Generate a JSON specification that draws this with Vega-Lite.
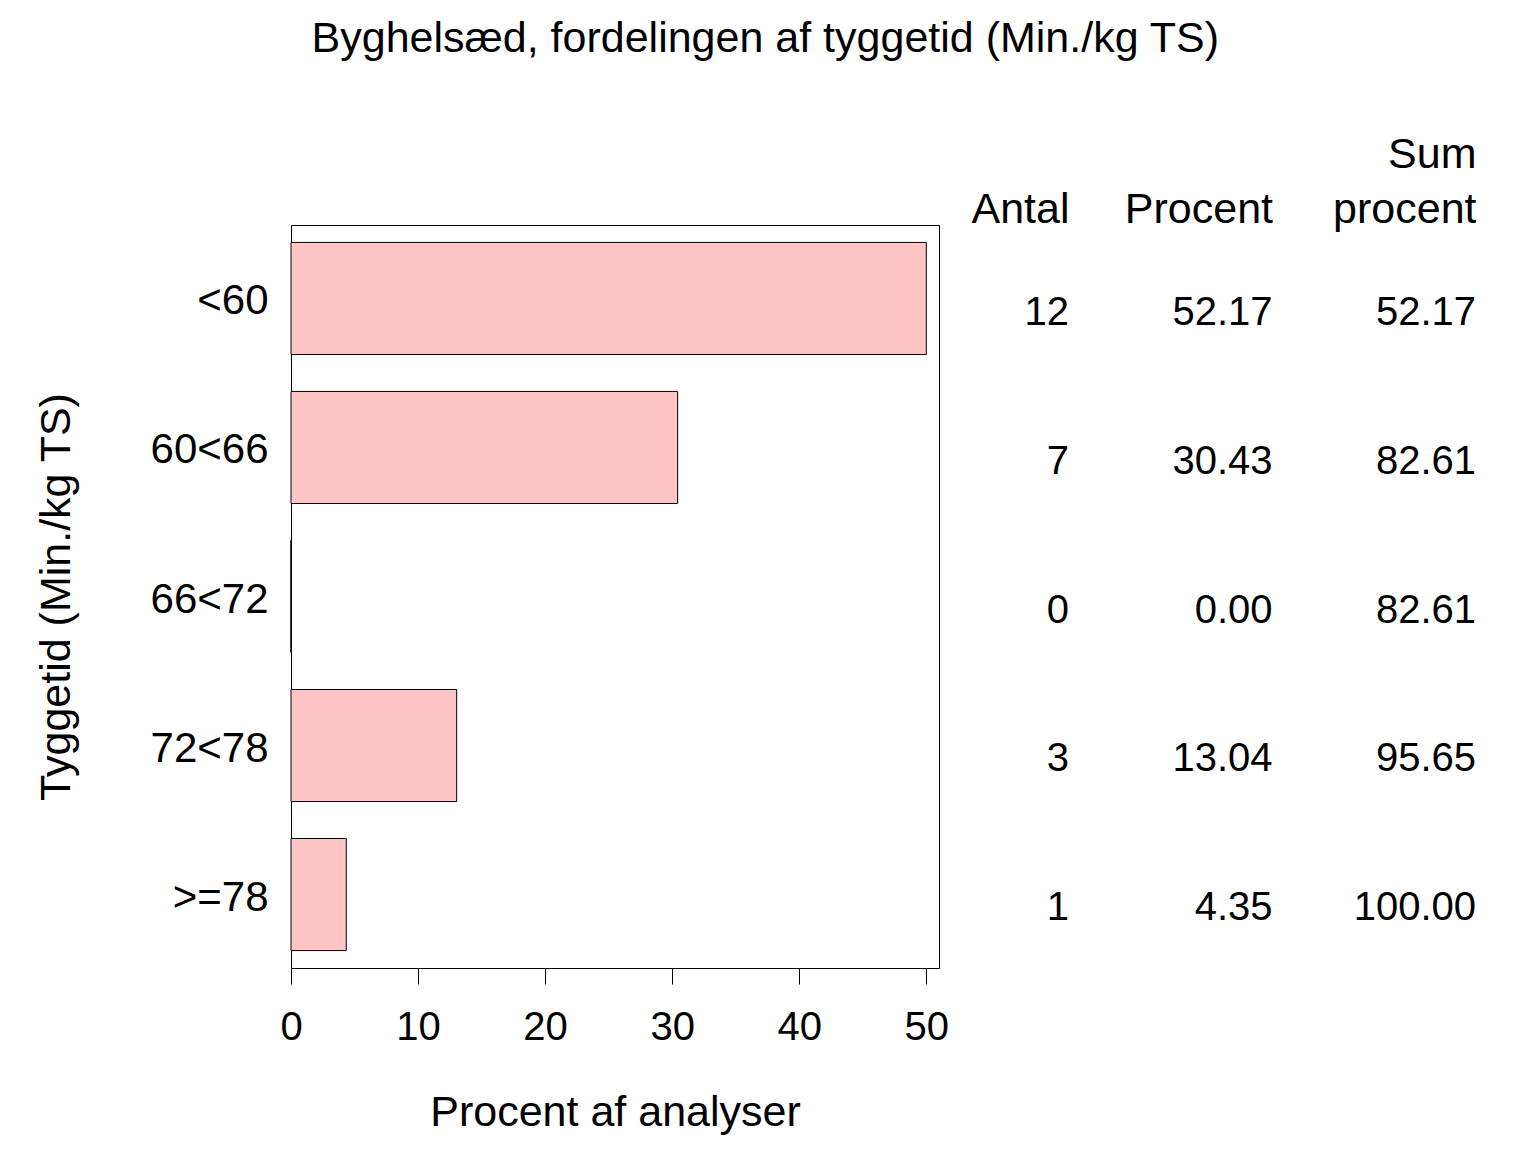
{
  "$schema": "https://vega.github.io/schema/vega-lite/v6.json",
  "background": "white",
  "padding": {"left": 34, "top": 18, "right": 0, "bottom": 0},
  "config": {
    "font": "Liberation Sans",
    "view": {"stroke": null},
    "axis": {"labelColor": "black", "titleColor": "black", "labelFontSize": 40, "titleFontSize": 43, "titleFontWeight": "normal", "tickColor": "black", "grid": false}
  },
  "title": {
    "text": "Byghelsæd, fordelingen af tyggetid (Min./kg TS)",
    "fontSize": 43,
    "fontWeight": "normal",
    "color": "black",
    "anchor": "middle",
    "dx": 10,
    "offset": 72
  },
  "data": {
    "values": [
      {"klasse": "<60", "antal": 12, "procent": 52.17, "sum": 52.17, "bar": 50},
      {"klasse": "60<66", "antal": 7, "procent": 30.43, "sum": 82.61, "bar": 30.43},
      {"klasse": "66<72", "antal": 0, "procent": 0, "sum": 82.61, "bar": 0},
      {"klasse": "72<78", "antal": 3, "procent": 13.04, "sum": 95.65, "bar": 13.04},
      {"klasse": ">=78", "antal": 1, "procent": 4.35, "sum": 100, "bar": 4.35}
    ]
  },
  "spacing": 20,
  "resolve": {"scale": {"x": "independent", "y": "independent"}},
  "hconcat": [
    {
      "width": 648,
      "height": 743,
      "view": {"stroke": "black", "strokeWidth": 1},
      "mark": {"type": "bar", "fill": "#ffc4c4", "stroke": "black", "strokeWidth": 1},
      "encoding": {
        "y": {
          "field": "klasse",
          "type": "nominal",
          "sort": null,
          "scale": {"paddingInner": 0.248, "paddingOuter": 0.117},
          "axis": {"title": "Tyggetid (Min./kg TS)", "ticks": false, "domain": false, "labelFontSize": 42, "labelPadding": 23, "labelOffset": 3, "titlePadding": 72}
        },
        "x": {
          "field": "bar",
          "type": "quantitative",
          "scale": {"domain": [0, 51], "nice": false},
          "axis": {"title": "Procent af analyser", "values": [0, 10, 20, 30, 40, 50], "domain": false, "tickSize": 16, "labelFlush": false, "labelPadding": 23, "titlePadding": 44}
        }
      }
    },
    {
      "width": 407,
      "height": 743,
      "encoding": {
        "y": {
          "field": "klasse",
          "type": "nominal",
          "sort": null,
          "scale": {"paddingInner": 0.248, "paddingOuter": 0.117},
          "axis": null
        }
      },
      "layer": [
        {
          "mark": {"type": "text", "align": "right", "baseline": "middle", "dy": 14, "fontSize": 40, "color": "black"},
          "encoding": {
            "x": {
              "datum": "Antal",
              "type": "nominal",
              "scale": {"type": "point", "domain": ["Antal", "Procent", "Sum procent"], "padding": 0},
              "axis": {"orient": "top", "title": null, "ticks": false, "domain": false, "labelAngle": 0, "labelAlign": "right", "labelFontSize": 43, "labelExpr": "datum.label == 'Sum procent' ? ['Sum', 'procent'] : ['', datum.label]", "labelLineHeight": 55, "labelPadding": 49}
            },
            "text": {"field": "antal", "type": "quantitative", "format": "d"}
          }
        },
        {
          "mark": {"type": "text", "align": "right", "baseline": "middle", "dy": 14, "fontSize": 40, "color": "black"},
          "encoding": {
            "x": {"datum": "Procent", "type": "nominal"},
            "text": {"field": "procent", "type": "quantitative", "format": ".2f"}
          }
        },
        {
          "mark": {"type": "text", "align": "right", "baseline": "middle", "dy": 14, "fontSize": 40, "color": "black"},
          "encoding": {
            "x": {"datum": "Sum procent", "type": "nominal"},
            "text": {"field": "sum", "type": "quantitative", "format": ".2f"}
          }
        }
      ]
    }
  ]
}
